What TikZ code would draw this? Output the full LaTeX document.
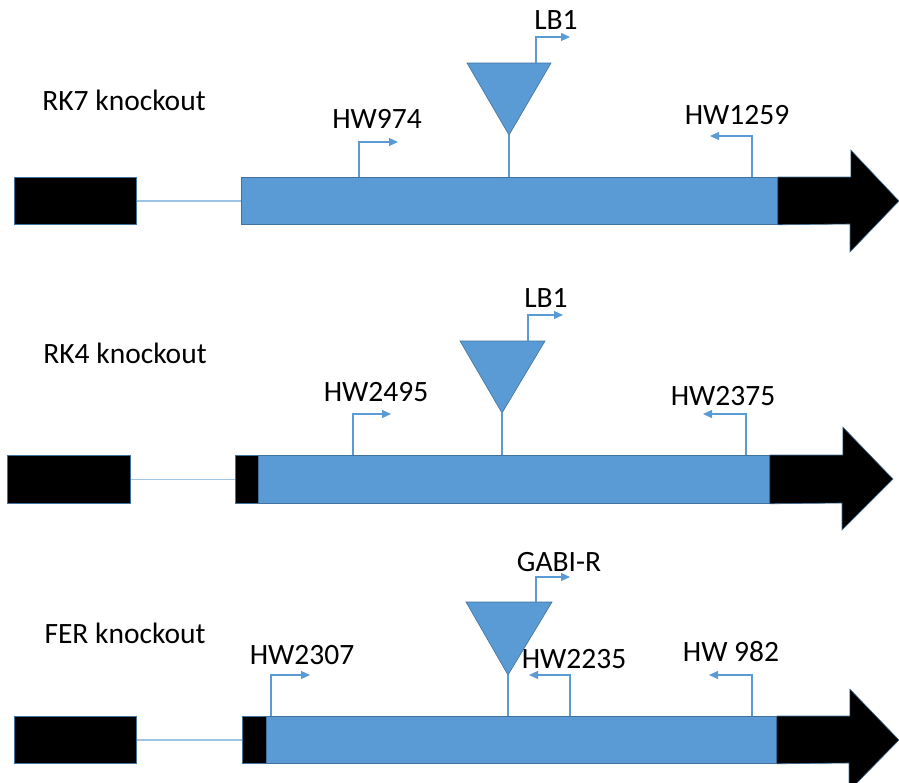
\documentclass[tikz,border=0pt]{standalone}
\usepackage{fontspec}
\setmainfont{Carlito}
\usetikzlibrary{arrows.meta}
\definecolor{genefill}{HTML}{5B9BD5}
\definecolor{geneedge}{HTML}{41719C}
\definecolor{linkblue}{HTML}{9DC3E6}
\tikzset{
  exonbox/.style={draw=geneedge, line width=0.8pt, fill=black, inner sep=0pt, anchor=north west},
  genebox/.style={draw=geneedge, line width=0.8pt, fill=genefill, inner sep=0pt, anchor=north west},
  intron/.style={draw=linkblue, line width=1.3pt},
  headfill/.style={draw=geneedge, line width=0.6pt, fill=black},
  insert/.style={draw=geneedge, line width=0.6pt, fill=genefill, line join=miter},
  stem/.style={draw=genefill, line width=1.2pt},
  primer/.style={draw=genefill, line width=1.1pt, -{Triangle[width=8pt,length=9pt]}},
  lbl/.style={font=\fontsize{29.5}{34}\selectfont, inner sep=0pt, anchor=base},
}
\begin{document}
\begin{tikzpicture}[x=1pt,y=-1pt]
\useasboundingbox (0,0) rectangle (899,782);
\clip (0,0) rectangle (899,782);

% ---------------- Row 1: RK7 ----------------
\node[lbl] (t1) at (124,110) {RK7 knockout};
\node[exonbox, minimum width=122pt, minimum height=47pt] (a1) at (14,177) {};
\node[genebox, minimum width=536pt, minimum height=47pt] (g1) at (241,177) {};
\draw[intron] (a1.east) -- (g1.west);
\draw[headfill] (g1.north east) -- ++(73,0) -- ++(0,-27) -- (899,201) -- (850,252) -- ++(0,-28) -- (g1.south east) -- cycle;
\coordinate (ap1) at (509,135);
\draw[stem] (ap1) -- (ap1 |- g1.north);
\draw[insert] (ap1) -- (467,63) -- (551,63) -- cycle;
\coordinate (i1) at (536,63);
\draw[primer] (i1) -- ++(0,-26) -- ++(34,0);
\node[lbl] (lb1) at (556,29) {LB1};
\coordinate (p1a) at (359,177);
\draw[primer] (p1a) -- (359,142) -- (398,142);
\node[lbl] (hw974) at (377,128) {HW974};
\coordinate (p1b) at (752,177);
\draw[primer] (p1b) -- (752,136) -- (710,136);
\node[lbl] (hw1259) at (737,124) {HW1259};

% ---------------- Row 2: RK4 ----------------
\node[lbl] (t2) at (125,363) {RK4 knockout};
\node[exonbox, minimum width=123pt, minimum height=48pt] (a2) at (7,455) {};
\node[genebox, minimum width=534pt, minimum height=48pt] (g2) at (235,455) {};
\node[exonbox, minimum width=23pt, minimum height=48pt] (s2) at (235,455) {};
\draw[intron] (a2.east) -- (s2.west);
\draw[headfill] (g2.north east) -- ++(73,0) -- ++(0,-28) -- (893,479) -- (842,530) -- ++(0,-27) -- (g2.south east) -- cycle;
\coordinate (ap2) at (502,413);
\draw[stem] (ap2) -- (ap2 |- g2.north);
\draw[insert] (ap2) -- (460,341) -- (545,341) -- cycle;
\coordinate (i2) at (528,341);
\draw[primer] (i2) -- ++(0,-26) -- ++(35,0);
\node[lbl] (lb2) at (546,307) {LB1};
\coordinate (p2a) at (353,455);
\draw[primer] (p2a) -- (353,414) -- (391,414);
\node[lbl] (hw2495) at (376,401) {HW2495};
\coordinate (p2b) at (746,455);
\draw[primer] (p2b) -- (746,414) -- (703,414);
\node[lbl] (hw2375) at (723,405) {HW2375};

% ---------------- Row 3: FER ----------------
\node[lbl] (t3) at (125,643) {FER knockout};
\node[exonbox, minimum width=122pt, minimum height=47pt] (a3) at (14,716) {};
\node[genebox, minimum width=534pt, minimum height=47pt] (g3) at (242,716) {};
\node[exonbox, minimum width=24pt, minimum height=47pt] (s3) at (242,716) {};
\draw[intron] (a3.east) -- (s3.west);
\draw[headfill] (g3.north east) -- ++(73,0) -- ++(0,-27) -- (899,740) -- (849,791) -- ++(0,-28) -- (g3.south east) -- cycle;
\coordinate (ap3) at (508,675);
\draw[stem] (ap3) -- (ap3 |- g3.north);
\draw[insert] (ap3) -- (466,602) -- (552,602) -- cycle;
\coordinate (i3) at (536,602);
\draw[primer] (i3) -- ++(0,-25) -- ++(34,0);
\node[lbl] (gabi) at (559,571) {GABI-R};
\coordinate (p3a) at (271,716);
\draw[primer] (p3a) -- (271,675) -- (310,675);
\node[lbl] (hw2307) at (302,664) {HW2307};
\coordinate (p3b) at (570,716);
\draw[primer] (p3b) -- (570,675) -- (529,675);
\node[lbl] (hw2235) at (574,668) {HW2235};
\coordinate (p3c) at (752,716);
\draw[primer] (p3c) -- (752,675) -- (709,675);
\node[lbl] (hw982) at (731,661) {HW 982};
\end{tikzpicture}
\end{document}
